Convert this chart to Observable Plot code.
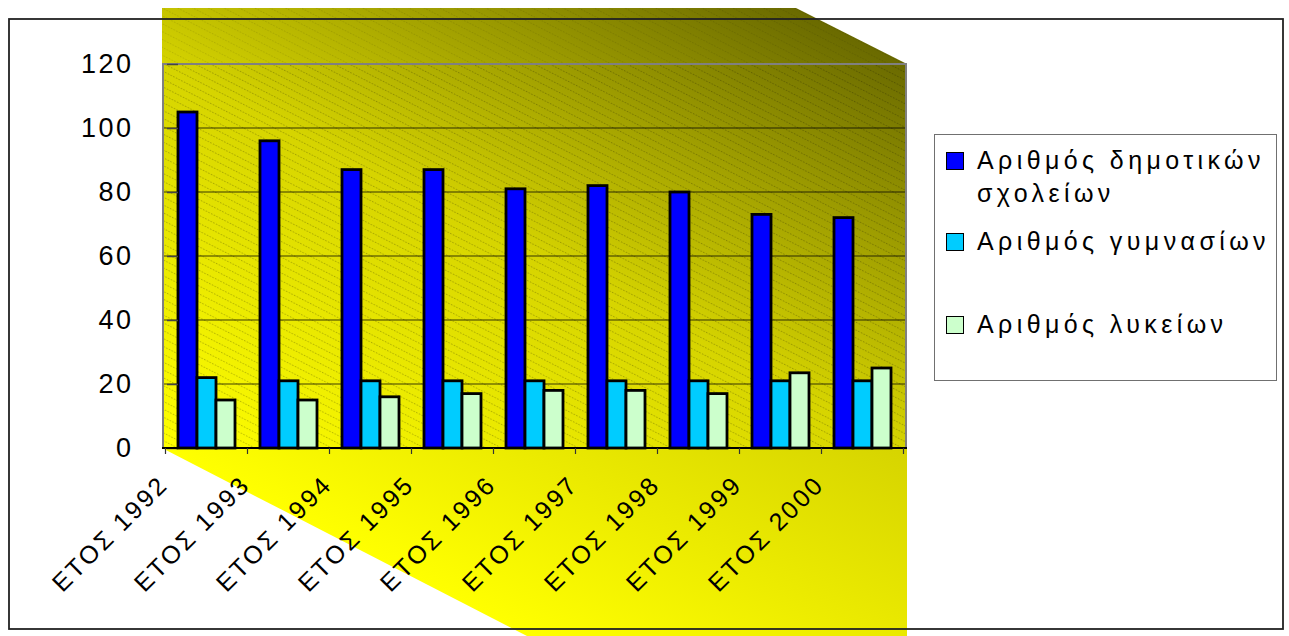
<!DOCTYPE html>
<html><head><meta charset="utf-8">
<script src="https://cdn.jsdelivr.net/npm/d3@7"></script>
<script src="https://cdn.jsdelivr.net/npm/@observablehq/plot@0.6"></script>
<style>
html,body{margin:0;padding:0;background:#fff;}
#wrap{position:relative;width:1289px;height:636px;overflow:hidden;font-family:"Liberation Sans",Arial,sans-serif;}
#under{position:absolute;left:0;top:0;}
#chart{position:absolute;left:0;top:0;}
#chart svg{background:transparent !important;}
g[aria-label="y-axis tick label"] text{letter-spacing:2.5px;}
g[aria-label="fx-axis tick label"] text{letter-spacing:2.5px;}
#legend{position:absolute;left:934px;top:134px;width:343px;height:247px;border:1px solid #707070;background:#fff;box-sizing:border-box;font-size:25px;letter-spacing:4.4px;color:#000;}
#legend .item{position:absolute;left:42px;line-height:33px;white-space:nowrap;}
#legend .sw{position:absolute;left:-31px;top:8px;width:16px;height:16px;border:1.5px solid #000;}
</style></head><body>
<div id="wrap"><svg id="under" width="1289" height="636"></svg><div id="chart"></div><div id="legend"></div></div>
<script>
const years = ["ΕΤΟΣ 1992","ΕΤΟΣ 1993","ΕΤΟΣ 1994","ΕΤΟΣ 1995","ΕΤΟΣ 1996","ΕΤΟΣ 1997","ΕΤΟΣ 1998","ΕΤΟΣ 1999","ΕΤΟΣ 2000"];
const seriesNames = ["Αριθμός δημοτικών σχολείων","Αριθμός γυμνασίων","Αριθμός λυκείων"];
const primarySchools = [105,96,87,87,81,82,80,73,72];
const gymnasia = [22,21,21,21,21,21,21,21,21];
const lykeia = [15,15,16,17,18,18,17,23.5,25];
const seriesColors = ["#0000ff","#00ccff","#ccffcc"];
const yTicks = [0,20,40,60,80,100,120];

const seriesValues = [primarySchools, gymnasia, lykeia];
const data = years.flatMap((yr,i)=>seriesNames.map((s,k)=>({year:yr, series:s, value:seriesValues[k][i]})));

const W=1289,H=636, mL=163, mR=383, mT=64, mB=188;

const chart = Plot.plot({
  width:W, height:H, marginLeft:mL, marginRight:mR, marginTop:mT, marginBottom:mB,
  style:{background:"transparent", fontFamily:"'Liberation Sans',Arial,sans-serif", color:"#000"},
  fx:{domain:years, paddingInner:0.31, paddingOuter:0.155, axis:null, label:null},
  x:{domain:seriesNames, padding:0, axis:null},
  y:{domain:[0,120], axis:null},
  color:{domain:seriesNames, range:seriesColors},
  marks:[
    Plot.barY(data,{fx:"year", x:"series", y:"value", fill:"series", stroke:"#000", strokeWidth:2.8}),
    Plot.axisY({ticks:yTicks, tickSize:11, tickPadding:34, fontSize:27, stroke:"#444", strokeWidth:1.5, label:null}),
    Plot.axisFx({anchor:"bottom", tickRotate:-45, tickSize:0, tickPadding:10, fontSize:25, dx:-43, dy:22, label:null})
  ]
});
document.getElementById("chart").appendChild(chart);

// decorations
const ys = chart.scale("y"), fxs = chart.scale("fx");
const x0=mL, x1=W-mR, yTop=ys.apply(120), yBot=ys.apply(0);
const u = d3.select("#under");
const defs = u.append("defs");
const g = defs.append("linearGradient").attr("id","grad").attr("gradientUnits","userSpaceOnUse")
  .attr("x1",163).attr("y1",448).attr("x2",474).attr("y2",-157);
g.append("stop").attr("offset",0).attr("stop-color","#ffff00");
g.append("stop").attr("offset",0.5).attr("stop-color","#d6d400");
g.append("stop").attr("offset",1).attr("stop-color","#6a6a00");
const pat = defs.append("pattern").attr("id","hatch").attr("patternUnits","userSpaceOnUse")
  .attr("width",12).attr("height",7).attr("patternTransform","rotate(27)");
pat.append("line").attr("x1",0).attr("y1",3.5).attr("x2",12).attr("y2",3.5)
  .attr("stroke","#000").attr("stroke-opacity",0.3).attr("stroke-width",0.8).attr("stroke-dasharray","1.5,1.5");
// gradient shape
u.append("polygon").attr("points",[[162,8],[796,8],[907,64],[907,636],[527,636],[162,448]].join(" ")).attr("fill","url(#grad)");
// faint hatch above plot
u.append("polygon").attr("points",[[162,8],[796,8],[907,64],[162,64]].join(" ")).attr("fill","url(#hatch)").attr("opacity",0.45);
// hatch in plot
u.append("rect").attr("x",x0).attr("y",yTop).attr("width",x1-x0).attr("height",yBot-yTop).attr("fill","url(#hatch)");
// gridlines
for (const t of yTicks.slice(1,-1)) {
  u.append("line").attr("x1",x0).attr("x2",x1).attr("y1",ys.apply(t)).attr("y2",ys.apply(t))
   .attr("stroke","#000").attr("stroke-opacity",0.5).attr("stroke-width",1.5);
}
// plot frame
u.append("rect").attr("x",x0).attr("y",yTop).attr("width",x1-x0).attr("height",yBot-yTop)
  .attr("fill","none").attr("stroke","#808080").attr("stroke-width",2);
// outer border
u.append("rect").attr("x",9).attr("y",19).attr("width",1274).attr("height",610)
  .attr("fill","none").attr("stroke","#222").attr("stroke-width",1.8);

// bottom axis line and ticks on top of bars
const ov = d3.select(chart).append("g");
ov.append("line").attr("x1",x0-1).attr("x2",x1+1).attr("y1",yBot).attr("y2",yBot).attr("stroke","#000").attr("stroke-width",2);
const gap = (fxs.step - fxs.bandwidth)/2;
const bounds = years.map(yr=>fxs.apply(yr)-gap).concat([fxs.apply(years[years.length-1])+fxs.bandwidth+gap]);
for (const b of bounds) ov.append("line").attr("x1",b).attr("x2",b).attr("y1",yBot).attr("y2",yBot+6).attr("stroke","#333").attr("stroke-width",1.2);

// legend
const leg = d3.select("#legend");
const tops = [9,90,173];
seriesNames.forEach((s,k)=>{
  const it = leg.append("div").attr("class","item").style("top",tops[k]+"px");
  it.append("div").attr("class","sw").style("background",seriesColors[k]);
  if (k===0) { const p=s.split(" "); it.html(it.html()+p[0]+" "+p[1]+"<br>"+p[2]); }
  else it.append("span").text(s);
});
</script></body></html>
